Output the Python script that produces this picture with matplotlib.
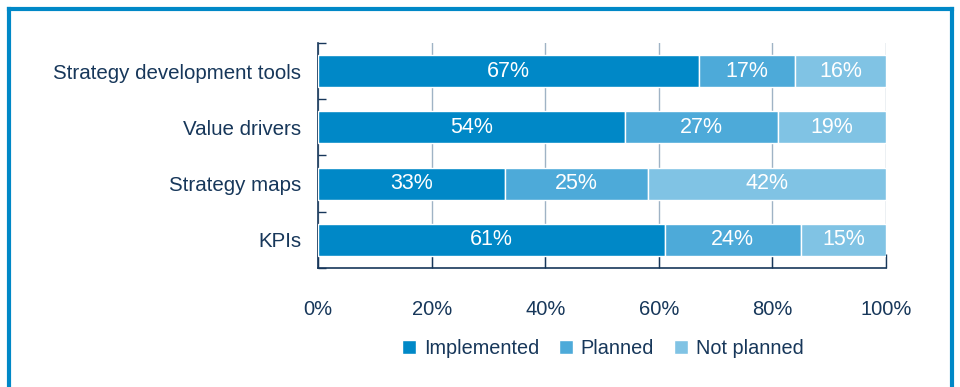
import matplotlib

matplotlib.use("Agg")
import matplotlib.pyplot as plt
import numpy as np

categories = ["Strategy development tools", "Value drivers", "Strategy maps", "KPIs"]
implemented = [67, 54, 33, 61]
planned = [17, 27, 25, 24]
not_planned = [16, 19, 42, 15]
series_names = ["Implemented", "Planned", "Not planned"]
xticks = [0, 20, 40, 60, 80, 100]

colors = ["#0088c7", "#4daad9", "#80c3e4"]
navy = "#17375a"

plt.rcParams.update({"font.family": ["Liberation Sans", "DejaVu Sans"], "font.size": 14})

fig = plt.figure(figsize=(9.6, 3.87), dpi=100)
ax = fig.add_axes([0.3313, 0.3075, 0.5917, 0.5814])

y = np.arange(len(categories))
left = np.zeros(len(categories))
for vals, col, name in zip([implemented, planned, not_planned], colors, series_names):
    bars = ax.barh(y, vals, left=left, height=0.57, color=col, edgecolor="white",
                   linewidth=1.0, label=name, zorder=3)
    for b, v in zip(bars, vals):
        ax.text(b.get_x() + b.get_width() / 2, b.get_y() + b.get_height() / 2,
                f"{v}%", ha="center", va="center", color="white", fontsize=15.5, zorder=4)
    left += np.array(vals)

ax.set_xlim(0, 100)
ax.set_ylim(len(categories) - 0.5, -0.5)
ax.set_xticks(xticks)
ax.set_xticklabels([f"{t}%" for t in xticks], color=navy, fontsize=14.5)
ax.set_yticks(y)
ax.set_yticklabels(categories, color=navy, fontsize=14.8)
ax.set_yticks(np.arange(-0.5, len(categories)), minor=True)
ax.tick_params(axis="y", which="major", length=0, pad=12)
ax.tick_params(axis="y", which="minor", direction="in", length=6, color=navy, width=1)
ax.tick_params(axis="x", direction="in", length=10, color=navy, width=1, pad=23)
ax.grid(axis="x", color="#9fb3c5", linewidth=1.0, zorder=0)
for side in ["top", "right"]:
    ax.spines[side].set_visible(False)
for side in ["left", "bottom"]:
    ax.spines[side].set_color(navy)
    ax.spines[side].set_linewidth(1.2)

fig.legend(loc="center", bbox_to_anchor=(0.628, 0.1), ncol=3, frameon=False,
           handlelength=0.7, handleheight=0.7, handletextpad=0.4, columnspacing=1.0,
           labelcolor=navy, fontsize=14.3)

# blue frame around the panel, open at the bottom
frame = dict(color="#0088c7", linewidth=3, transform=fig.transFigure, clip_on=False)
fig.add_artist(plt.Line2D([0.0094, 0.0094], [0.0, 0.977], **frame))
fig.add_artist(plt.Line2D([0.0094, 0.9917], [0.977, 0.977], **frame))
fig.add_artist(plt.Line2D([0.9917, 0.9917], [0.0, 0.977], **frame))

fig.savefig("out.png", dpi=100)
